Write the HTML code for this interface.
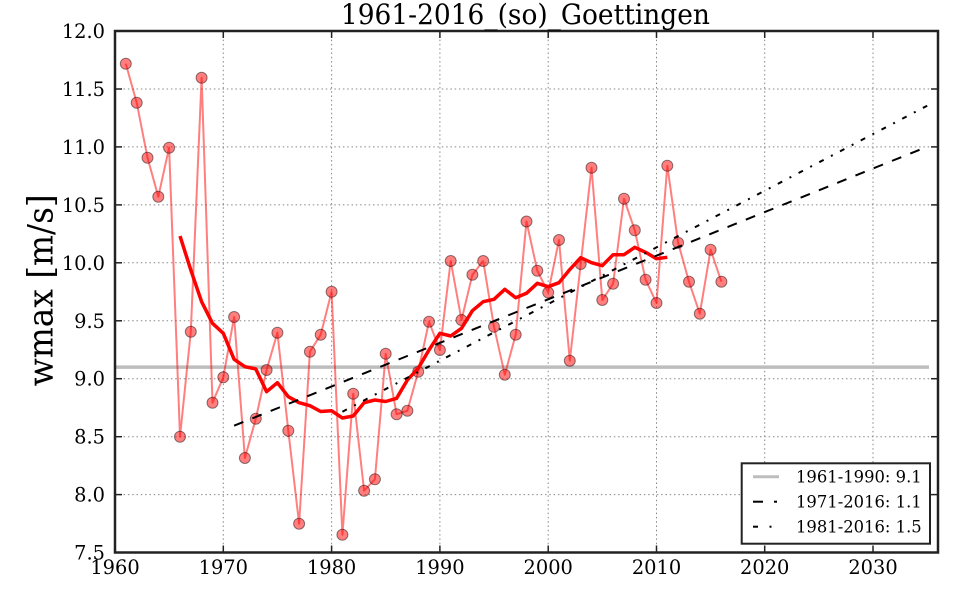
<!DOCTYPE html>
<html><head><meta charset="utf-8"><style>
html,body{margin:0;padding:0;background:#fff;}
svg{display:block;}
text{font-family:"DejaVu Serif","Liberation Serif",serif;fill:#000;}
</style></head><body>
<svg width="960" height="600" viewBox="0 0 960 600" xmlns="http://www.w3.org/2000/svg">
<rect x="0" y="0" width="960" height="600" fill="#fff"/>
<!-- grid -->
<g stroke="#888" stroke-width="1" stroke-dasharray="1.5 2.8" fill="none">
<line x1="223.3" y1="31" x2="223.3" y2="552.5"/>
<line x1="331.6" y1="31" x2="331.6" y2="552.5"/>
<line x1="439.9" y1="31" x2="439.9" y2="552.5"/>
<line x1="548.2" y1="31" x2="548.2" y2="552.5"/>
<line x1="656.5" y1="31" x2="656.5" y2="552.5"/>
<line x1="764.7" y1="31" x2="764.7" y2="552.5"/>
<line x1="873.0" y1="31" x2="873.0" y2="552.5"/>
<line x1="115" y1="89" x2="938" y2="89"/>
<line x1="115" y1="146.9" x2="938" y2="146.9"/>
<line x1="115" y1="204.9" x2="938" y2="204.9"/>
<line x1="115" y1="262.8" x2="938" y2="262.8"/>
<line x1="115" y1="320.8" x2="938" y2="320.8"/>
<line x1="115" y1="378.7" x2="938" y2="378.7"/>
<line x1="115" y1="436.7" x2="938" y2="436.7"/>
<line x1="115" y1="494.6" x2="938" y2="494.6"/>
</g>
<!-- reference line -->
<line x1="115" y1="367.1" x2="929" y2="367.1" stroke="#bdbdbd" stroke-width="3.5"/>
<!-- raw data -->
<polyline fill="none" stroke="#ff0000" stroke-opacity="0.5" stroke-width="2" stroke-linejoin="round" points="125.8,63.7 136.7,102.7 147.5,157.7 158.3,196.7 169.1,147.7 180.0,436.7 190.8,331.7 201.6,77.7 212.5,402.7 223.3,377.3 234.1,317 244.9,458 255.8,418.7 266.6,370 277.4,332.7 288.3,430.7 299.1,523.7 309.9,351.7 320.7,334.7 331.6,291.7 342.4,534.7 353.2,393.7 364.1,490.7 374.9,479.3 385.7,353.7 396.6,414.3 407.4,410.7 418.2,371.7 429.0,321.7 439.9,350 450.7,261 461.5,320 472.4,274.7 483.2,261 494.0,326.7 504.8,374.7 515.7,334.7 526.5,221.5 537.3,270.7 548.2,292.5 559.0,240 569.8,360.7 580.7,264 591.5,167.7 602.3,300 613.1,283.7 624.0,198.7 634.8,230.3 645.6,279.7 656.5,303 667.3,165.7 678.1,242.7 689.0,281.7 699.8,313.7 710.6,249.7 721.4,281.7"/>
<g fill="#ff0000" fill-opacity="0.5" stroke="#000" stroke-opacity="0.45" stroke-width="1">
<circle cx="125.8" cy="63.7" r="5.5"/><circle cx="136.7" cy="102.7" r="5.5"/><circle cx="147.5" cy="157.7" r="5.5"/><circle cx="158.3" cy="196.7" r="5.5"/><circle cx="169.1" cy="147.7" r="5.5"/><circle cx="180.0" cy="436.7" r="5.5"/><circle cx="190.8" cy="331.7" r="5.5"/><circle cx="201.6" cy="77.7" r="5.5"/><circle cx="212.5" cy="402.7" r="5.5"/><circle cx="223.3" cy="377.3" r="5.5"/><circle cx="234.1" cy="317" r="5.5"/><circle cx="244.9" cy="458" r="5.5"/><circle cx="255.8" cy="418.7" r="5.5"/><circle cx="266.6" cy="370" r="5.5"/><circle cx="277.4" cy="332.7" r="5.5"/><circle cx="288.3" cy="430.7" r="5.5"/><circle cx="299.1" cy="523.7" r="5.5"/><circle cx="309.9" cy="351.7" r="5.5"/><circle cx="320.7" cy="334.7" r="5.5"/><circle cx="331.6" cy="291.7" r="5.5"/><circle cx="342.4" cy="534.7" r="5.5"/><circle cx="353.2" cy="393.7" r="5.5"/><circle cx="364.1" cy="490.7" r="5.5"/><circle cx="374.9" cy="479.3" r="5.5"/><circle cx="385.7" cy="353.7" r="5.5"/><circle cx="396.6" cy="414.3" r="5.5"/><circle cx="407.4" cy="410.7" r="5.5"/><circle cx="418.2" cy="371.7" r="5.5"/><circle cx="429.0" cy="321.7" r="5.5"/><circle cx="439.9" cy="350" r="5.5"/><circle cx="450.7" cy="261" r="5.5"/><circle cx="461.5" cy="320" r="5.5"/><circle cx="472.4" cy="274.7" r="5.5"/><circle cx="483.2" cy="261" r="5.5"/><circle cx="494.0" cy="326.7" r="5.5"/><circle cx="504.8" cy="374.7" r="5.5"/><circle cx="515.7" cy="334.7" r="5.5"/><circle cx="526.5" cy="221.5" r="5.5"/><circle cx="537.3" cy="270.7" r="5.5"/><circle cx="548.2" cy="292.5" r="5.5"/><circle cx="559.0" cy="240" r="5.5"/><circle cx="569.8" cy="360.7" r="5.5"/><circle cx="580.7" cy="264" r="5.5"/><circle cx="591.5" cy="167.7" r="5.5"/><circle cx="602.3" cy="300" r="5.5"/><circle cx="613.1" cy="283.7" r="5.5"/><circle cx="624.0" cy="198.7" r="5.5"/><circle cx="634.8" cy="230.3" r="5.5"/><circle cx="645.6" cy="279.7" r="5.5"/><circle cx="656.5" cy="303" r="5.5"/><circle cx="667.3" cy="165.7" r="5.5"/><circle cx="678.1" cy="242.7" r="5.5"/><circle cx="689.0" cy="281.7" r="5.5"/><circle cx="699.8" cy="313.7" r="5.5"/><circle cx="710.6" cy="249.7" r="5.5"/><circle cx="721.4" cy="281.7" r="5.5"/>
</g>
<!-- smoothed -->
<polyline fill="none" stroke="#ff0000" stroke-width="3.5" stroke-linejoin="round" points="180.0,236 190.8,270 201.6,301.7 212.5,323.3 223.3,333.3 234.1,359.3 244.9,366.7 255.8,369 266.6,391.7 277.4,382.7 288.3,396.7 299.1,402.7 309.9,405.7 320.7,411.5 331.6,410.8 342.4,418 353.2,416 364.1,402.7 374.9,400 385.7,401.5 396.6,398.3 407.4,380 418.2,368.3 429.0,350 439.9,333.3 450.7,336 461.5,328.3 472.4,310.7 483.2,301.7 494.0,299.3 504.8,289.3 515.7,297.7 526.5,293.3 537.3,283.3 548.2,286.7 559.0,282.7 569.8,269.5 580.7,257.7 591.5,262.7 602.3,265.7 613.1,254.7 624.0,254.7 634.8,247.3 645.6,252.3 656.5,258.7 667.3,257.3"/>
<!-- trends -->
<line x1="234.1" y1="425.7" x2="927.2" y2="146.7" stroke="#000" stroke-width="2" stroke-dasharray="10 9.7"/>
<line x1="342.4" y1="411.7" x2="927.2" y2="105.7" stroke="#000" stroke-width="2" stroke-dasharray="5 8.2 2 8.2"/>
<!-- ticks -->
<g stroke="#222" stroke-width="1.5">
<line x1="223.3" y1="552.5" x2="223.3" y2="545.5"/><line x1="331.6" y1="552.5" x2="331.6" y2="545.5"/><line x1="439.9" y1="552.5" x2="439.9" y2="545.5"/><line x1="548.2" y1="552.5" x2="548.2" y2="545.5"/><line x1="656.5" y1="552.5" x2="656.5" y2="545.5"/><line x1="764.7" y1="552.5" x2="764.7" y2="545.5"/><line x1="873.0" y1="552.5" x2="873.0" y2="545.5"/>
<line x1="223.3" y1="31" x2="223.3" y2="38"/><line x1="331.6" y1="31" x2="331.6" y2="38"/><line x1="439.9" y1="31" x2="439.9" y2="38"/><line x1="548.2" y1="31" x2="548.2" y2="38"/><line x1="656.5" y1="31" x2="656.5" y2="38"/><line x1="764.7" y1="31" x2="764.7" y2="38"/><line x1="873.0" y1="31" x2="873.0" y2="38"/>
<line x1="115" y1="89" x2="122" y2="89"/><line x1="115" y1="146.9" x2="122" y2="146.9"/><line x1="115" y1="204.9" x2="122" y2="204.9"/><line x1="115" y1="262.8" x2="122" y2="262.8"/><line x1="115" y1="320.8" x2="122" y2="320.8"/><line x1="115" y1="378.7" x2="122" y2="378.7"/><line x1="115" y1="436.7" x2="122" y2="436.7"/><line x1="115" y1="494.6" x2="122" y2="494.6"/>
<line x1="938" y1="89" x2="931" y2="89"/><line x1="938" y1="146.9" x2="931" y2="146.9"/><line x1="938" y1="204.9" x2="931" y2="204.9"/><line x1="938" y1="262.8" x2="931" y2="262.8"/><line x1="938" y1="320.8" x2="931" y2="320.8"/><line x1="938" y1="378.7" x2="931" y2="378.7"/><line x1="938" y1="436.7" x2="931" y2="436.7"/><line x1="938" y1="494.6" x2="931" y2="494.6"/>
</g>
<!-- spines -->
<rect x="115" y="31" width="823" height="521.5" fill="none" stroke="#222" stroke-width="2.5"/>
<!-- x tick labels -->
<g font-size="19.4" text-anchor="middle">
<text x="115" y="574">1960</text><text x="223.3" y="574">1970</text><text x="331.6" y="574">1980</text><text x="439.9" y="574">1990</text><text x="548.2" y="574">2000</text><text x="656.5" y="574">2010</text><text x="764.7" y="574">2020</text><text x="873.0" y="574">2030</text>
</g>
<!-- y tick labels -->
<g font-size="19.4" text-anchor="end">
<text x="105" y="38">12.0</text><text x="105" y="96">11.5</text><text x="105" y="153.9">11.0</text><text x="105" y="211.9">10.5</text><text x="105" y="269.8">10.0</text><text x="105" y="327.8">9.5</text><text x="105" y="385.7">9.0</text><text x="105" y="443.7">8.5</text><text x="105" y="501.6">8.0</text><text x="105" y="559.5">7.5</text>
</g>
<!-- title -->
<text x="525.4" y="24" font-size="27.8" text-anchor="middle" textLength="369" lengthAdjust="spacingAndGlyphs">1961-2016_(so)_Goettingen</text>
<!-- y label -->
<text transform="translate(52.5,290.3) rotate(-90)" font-size="35" text-anchor="middle" textLength="192" lengthAdjust="spacingAndGlyphs">wmax [m/s]</text>
<!-- legend -->
<rect x="741.7" y="463.3" width="188.3" height="80.4" fill="#fff" stroke="#222" stroke-width="2"/>
<line x1="753" y1="476.7" x2="779" y2="476.7" stroke="#bdbdbd" stroke-width="3"/>
<line x1="753" y1="501.7" x2="763" y2="501.7" stroke="#000" stroke-width="2"/>
<line x1="774" y1="501.7" x2="777" y2="501.7" stroke="#000" stroke-width="2"/>
<line x1="753" y1="526.7" x2="758" y2="526.7" stroke="#000" stroke-width="2"/>
<line x1="769.5" y1="526.7" x2="771.5" y2="526.7" stroke="#000" stroke-width="2"/>
<g font-size="16.7">
<text x="796" y="482.7" textLength="125.7" lengthAdjust="spacingAndGlyphs">1961-1990: 9.1</text>
<text x="796" y="507.7" textLength="125.7" lengthAdjust="spacingAndGlyphs">1971-2016: 1.1</text>
<text x="796" y="532.7" textLength="125.7" lengthAdjust="spacingAndGlyphs">1981-2016: 1.5</text>
</g>
</svg>
</body></html>
